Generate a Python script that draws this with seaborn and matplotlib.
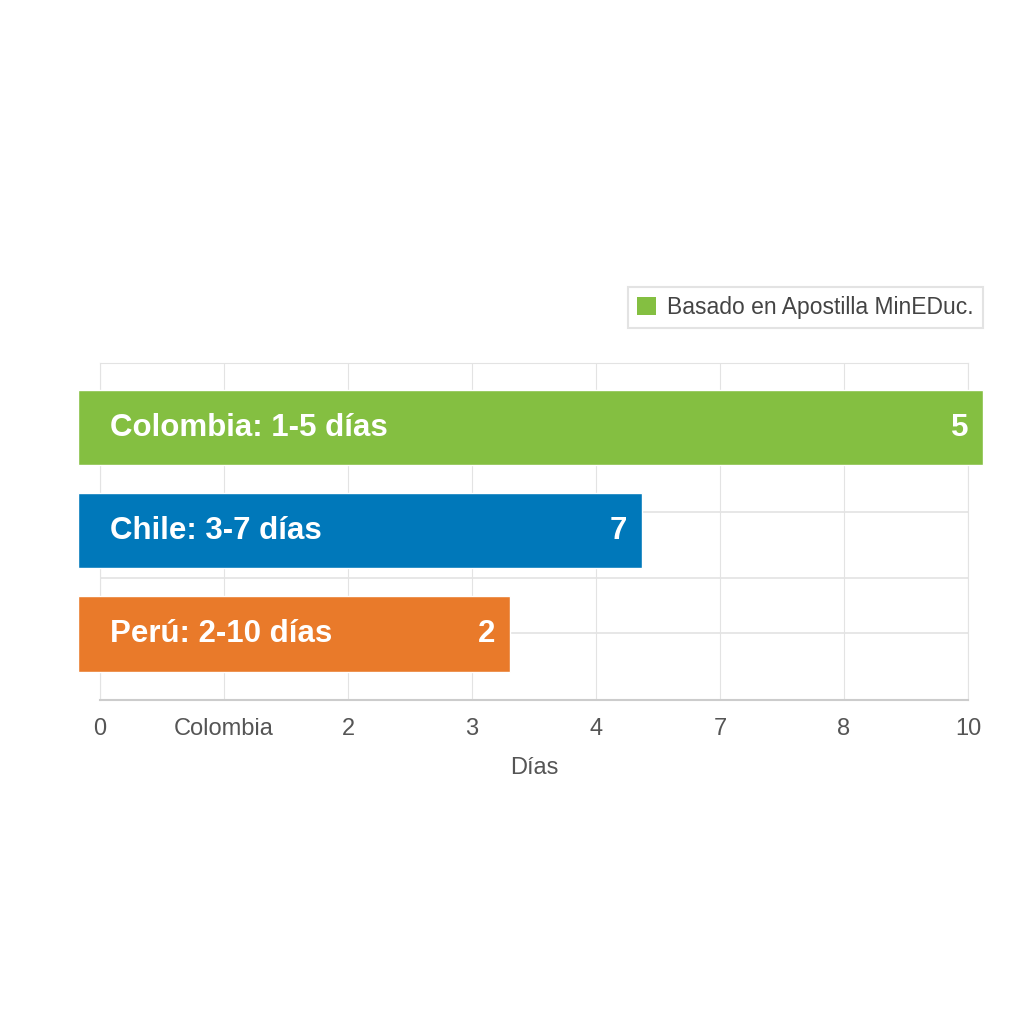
import seaborn as sns
import matplotlib.pyplot as plt
import pandas as pd
from matplotlib.patches import Patch

# data
countries = ["Colombia", "Chile", "Perú"]
bar_labels = ["Colombia: 1-5 días", "Chile: 3-7 días", "Perú: 2-10 días"]
bar_start = -0.18
bar_end = [7.12, 4.37, 3.31]
value_labels = ["5", "7", "2"]
tick_labels = ["0", "Colombia", "2", "3", "4", "7", "8", "10"]
colors = ["#84BF41", "#0078BA", "#E97A2A"]
legend_label = "Basado en Apostilla MinEDuc."
grid_rows = [0.82, 1.46, 1.99]


def main():
    sns.set_style("whitegrid", {"grid.color": "#e3e3e3", "axes.edgecolor": "#e3e3e3"})
    plt.rcParams['font.family'] = ['Liberation Sans', 'DejaVu Sans']

    data = pd.DataFrame({'pais': countries, 'fin': bar_end})

    fig = plt.figure(figsize=(10.24, 10.24), dpi=100)
    ax = fig.add_axes([100 / 1024, 1 - 700 / 1024, 868 / 1024, 337 / 1024])

    sns.barplot(data=data, y='pais', x='fin', hue='pais', palette=colors,
                orient='h', width=0.73, legend=False, ax=ax, saturation=1)

    for patch, end in zip(ax.patches, bar_end):
        patch.set_x(bar_start)
        patch.set_width(end - bar_start)
        patch.set_clip_on(False)
        patch.set_zorder(3)

    for i, (lab, val, end) in enumerate(zip(bar_labels, value_labels, bar_end)):
        ax.text(bar_start + 0.26, i, lab, color="white", fontsize=22.5,
                fontweight="bold", va="center", ha="left", zorder=4, clip_on=False)
        ax.text(end - 0.12, i, val, color="white", fontsize=22.5,
                fontweight="bold", va="center", ha="right", zorder=4, clip_on=False)

    ax.set_xlim(0, 7)
    ax.set_ylim(2.64, -0.625)
    ax.set_xticks(range(len(tick_labels)))
    ax.set_xticklabels(tick_labels)
    ax.set_yticks([])
    ax.set_ylabel("")
    ax.grid(axis='y', visible=False)
    for y in grid_rows:
        ax.axhline(y, color="#e3e3e3", lw=1.2, zorder=0)
    ax.spines['bottom'].set_color("#cccccc")
    ax.spines['bottom'].set_linewidth(1.5)
    ax.tick_params(axis='x', length=0, pad=13, labelsize=17, labelcolor="#555555")

    ax.set_xlabel("Días", fontsize=17, color="#555555", labelpad=12)

    handle = Patch(facecolor=colors[0], edgecolor="none")
    leg = fig.legend([handle], [legend_label], loc='upper right',
                     bbox_to_anchor=(983 / 1024, 1 - 287 / 1024),
                     borderaxespad=0,
                     fontsize=16.5, frameon=True, fancybox=False,
                     handlelength=0.8, handleheight=0.8, handletextpad=0.5,
                     borderpad=0.4, labelcolor="#444444")
    leg.get_frame().set_edgecolor("#dddddd")
    leg.get_frame().set_linewidth(1.5)

    plt.savefig('out.png', dpi=100)


if __name__ == '__main__':
    main()
